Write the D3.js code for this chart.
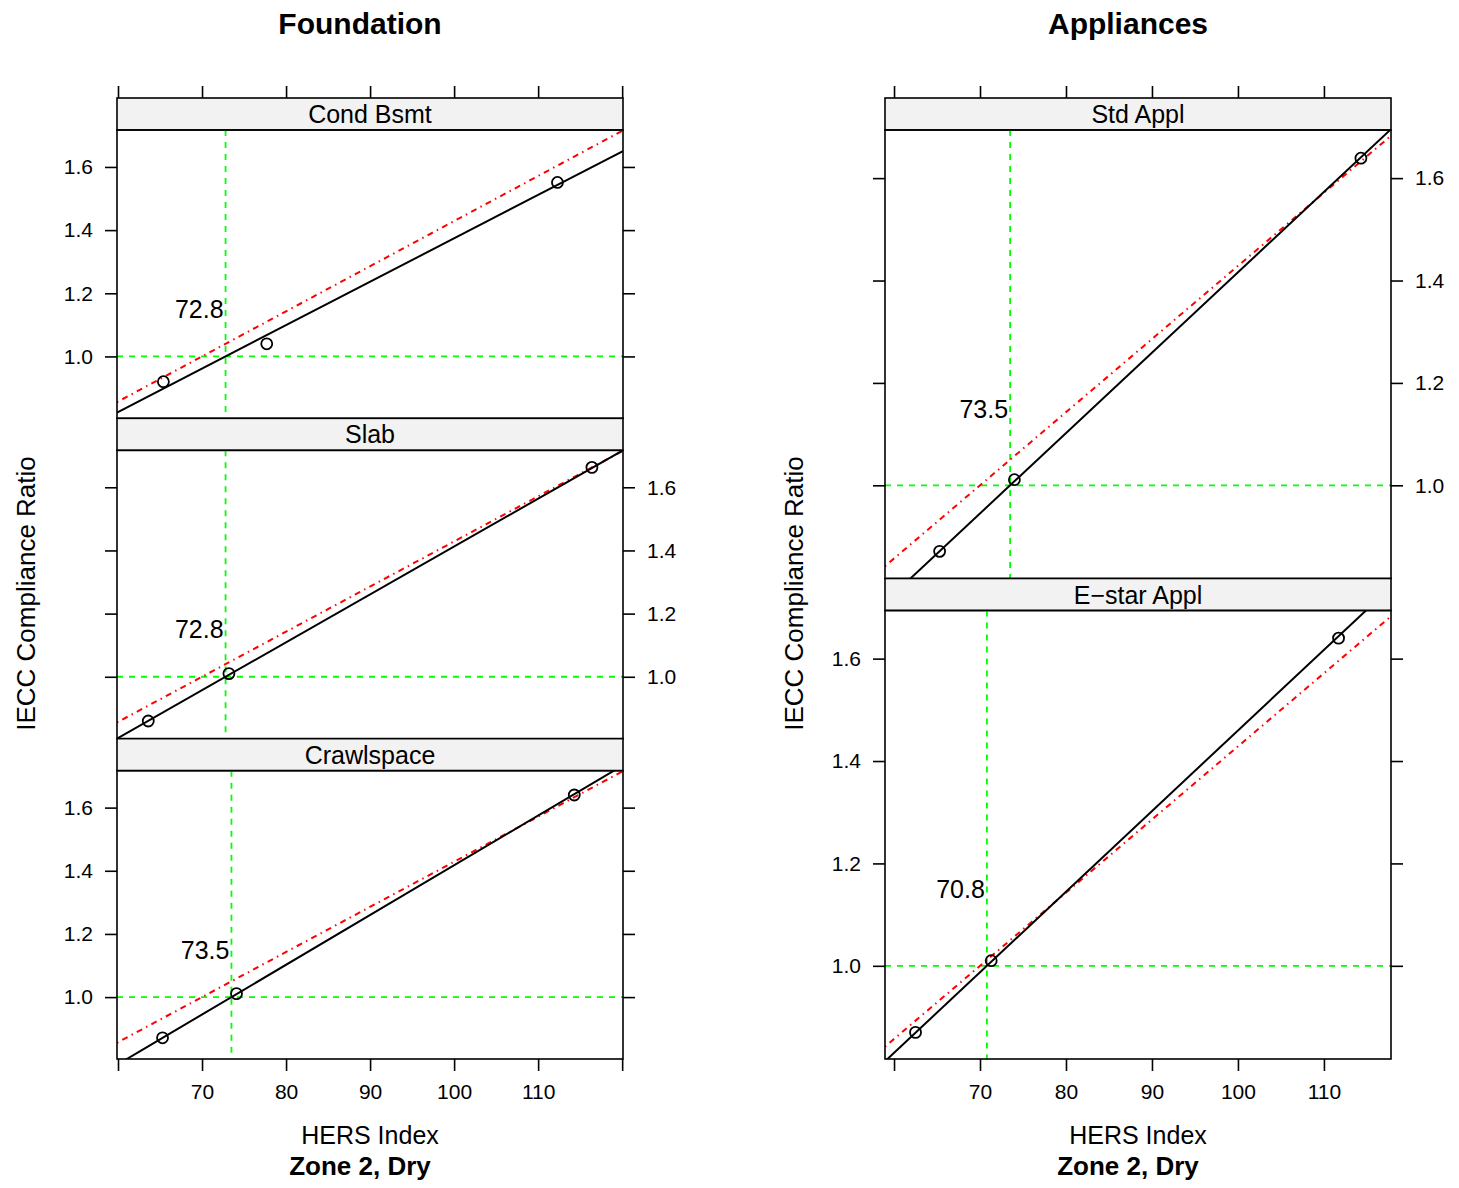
<!DOCTYPE html>
<html>
<head>
<meta charset="utf-8">
<script src="https://cdn.jsdelivr.net/npm/d3@7"></script>
<style>
  html, body { margin: 0; padding: 0; background: #fff; }
  svg { display: block; font-family: "Liberation Sans", Arial, Helvetica, sans-serif; }
</style>
</head>
<body>
<svg id="chart" width="1459" height="1188"></svg>
<script>
// ---------------- Data ----------------
const foundationPanels = ["Cond Bsmt", "Slab", "Crawlspace"];
const foundationHERS   = [[65.4, 77.7, 112.3], [63.6, 73.2, 116.4], [65.3, 74.1, 114.3]];
const foundationRatio  = [[0.920, 1.040, 1.551], [0.860, 1.010, 1.663], [0.871, 1.011, 1.640]];
const foundationCross  = [72.8, 72.8, 73.5];
const foundationSlope  = [0.01375, 0.01516, 0.01575];

const appliancePanels = ["Std Appl", "E\u2212star Appl"];
const applianceHERS   = [[65.3, 74.0, 114.3], [62.5, 71.3, 111.7]];
const applianceRatio  = [[0.871, 1.011, 1.639], [0.870, 1.010, 1.640]];
const applianceCross  = [73.5, 70.8];
const applianceSlope  = [0.0157, 0.01574];

const refHERS = 70;               // reference line: ratio = HERS / 70
const yTicks = [1.0, 1.2, 1.4, 1.6];
const xTicksFoundation = [60, 70, 80, 90, 100, 110, 120];
const xTicksAppliance  = [60, 70, 80, 90, 100, 110];
const xTickLabels = [70, 80, 90, 100, 110];

const titles = ["Foundation", "Appliances"];
const xLabel = "HERS Index";
const yLabel = "IECC Compliance Ratio";
const subTitle = "Zone 2, Dry";

// ---------------- Drawing ----------------
const svg = d3.select("#chart");
const GREEN = "#00FF00", RED = "#FF0000";
let clipId = 0;

function drawChart(cfg) {
  const n = cfg.panels.length;
  const rowH = (cfg.bottom - cfg.top) / n;
  const x = d3.scaleLinear().domain(cfg.xDomain).range([cfg.left, cfg.right]);
  const g = svg.append("g");
  const cx = (cfg.left + cfg.right) / 2;

  // titles
  g.append("text").attr("x", cfg.titleX).attr("y", 34).attr("text-anchor", "middle")
    .attr("font-size", 30).attr("font-weight", "bold").text(cfg.title);
  g.append("text").attr("x", cx).attr("y", 1144).attr("text-anchor", "middle")
    .attr("font-size", 25).text(xLabel);
  g.append("text").attr("x", cfg.titleX).attr("y", 1175).attr("text-anchor", "middle")
    .attr("font-size", 26).attr("font-weight", "bold").text(subTitle);
  g.append("text").attr("transform", `translate(${cfg.left - 82},${(cfg.top + cfg.bottom) / 2 + 15}) rotate(-90)`)
    .attr("text-anchor", "middle").attr("font-size", 26).text(yLabel);

  // top and bottom x axes
  const fmtX = d => xTickLabels.includes(d) ? String(d) : "";
  const topAx = g.append("g").attr("transform", `translate(0,${cfg.top})`)
    .call(d3.axisTop(x).tickValues(cfg.xTicks).tickSize(12).tickFormat(""));
  const botAx = g.append("g").attr("transform", `translate(0,${cfg.bottom})`)
    .call(d3.axisBottom(x).tickValues(cfg.xTicks).tickSize(12).tickPadding(13).tickFormat(fmtX));
  [topAx, botAx].forEach(a => {
    a.select(".domain").remove();
    a.selectAll("line").attr("stroke", "#000").attr("stroke-width", 1.6);
    a.selectAll("text").attr("font-size", 21).attr("fill", "#000").attr("font-family", null);
  });

  for (let i = 0; i < n; i++) {
    const stripTop = cfg.top + i * rowH;
    const pTop = stripTop + cfg.stripH;
    const pBot = cfg.top + (i + 1) * rowH;
    const y = d3.scaleLinear().domain(cfg.yDomain).range([pBot, pTop]);
    const fromBottom = n - 1 - i;
    const labelsLeft = fromBottom % 2 === 0;

    // strip
    g.append("rect").attr("x", cfg.left).attr("y", stripTop).attr("width", cfg.right - cfg.left)
      .attr("height", cfg.stripH).attr("fill", "#F2F2F2").attr("stroke", "#000").attr("stroke-width", 1.6);
    g.append("text").attr("x", cx).attr("y", stripTop + 25).attr("text-anchor", "middle")
      .attr("font-size", 25).text(cfg.panels[i]);

    // y axes
    const fmtY = d3.format(".1f");
    const lAx = g.append("g").attr("transform", `translate(${cfg.left},0)`)
      .call(d3.axisLeft(y).tickValues(yTicks).tickSize(12).tickPadding(12).tickFormat(labelsLeft ? fmtY : ""));
    const rAx = g.append("g").attr("transform", `translate(${cfg.right},0)`)
      .call(d3.axisRight(y).tickValues(yTicks).tickSize(12).tickPadding(12).tickFormat(labelsLeft ? "" : fmtY));
    [lAx, rAx].forEach(a => {
      a.select(".domain").remove();
      a.selectAll("line").attr("stroke", "#000").attr("stroke-width", 1.6);
      a.selectAll("text").attr("font-size", 21).attr("fill", "#000").attr("font-family", null);
    });

    // clip
    const id = "clip" + (clipId++);
    svg.append("clipPath").attr("id", id).append("rect")
      .attr("x", cfg.left).attr("y", pTop).attr("width", cfg.right - cfg.left).attr("height", pBot - pTop);
    const pg = g.append("g").attr("clip-path", `url(#${id})`);

    const cross = cfg.cross[i], slope = cfg.slope[i];
    const [x0, x1] = cfg.xDomain;

    // green reference lines
    pg.append("line").attr("x1", cfg.left).attr("x2", cfg.right).attr("y1", y(1)).attr("y2", y(1))
      .attr("stroke", GREEN).attr("stroke-width", 1.8).attr("stroke-dasharray", "6,6");
    pg.append("line").attr("x1", x(cross)).attr("x2", x(cross)).attr("y1", pTop).attr("y2", pBot)
      .attr("stroke", GREEN).attr("stroke-width", 1.8).attr("stroke-dasharray", "6,6");

    // red dot-dash line ratio = HERS/70
    const line = d3.line().x(d => x(d[0])).y(d => y(d[1]));
    pg.append("path").datum([[x0, x0 / refHERS], [x1, x1 / refHERS]]).attr("d", line)
      .attr("fill", "none").attr("stroke", RED).attr("stroke-width", 2).attr("stroke-dasharray", "1.5,4.5,6,4.5");

    // black fit line
    pg.append("path").datum([[x0, 1 + slope * (x0 - cross)], [x1, 1 + slope * (x1 - cross)]]).attr("d", line)
      .attr("fill", "none").attr("stroke", "#000").attr("stroke-width", 2);

    // points
    pg.selectAll("circle.pt").data(cfg.hers[i].map((h, k) => [h, cfg.ratio[i][k]])).enter()
      .append("circle").attr("cx", d => x(d[0])).attr("cy", d => y(d[1])).attr("r", 5.5)
      .attr("fill", "none").attr("stroke", "#000").attr("stroke-width", 1.8);

    // crossing label
    pg.append("text").attr("x", x(cross) - 2).attr("y", y(1.15) + 9).attr("text-anchor", "end")
      .attr("font-size", 25).text(cross.toFixed(1));

    // panel border
    g.append("rect").attr("x", cfg.left).attr("y", pTop).attr("width", cfg.right - cfg.left)
      .attr("height", pBot - pTop).attr("fill", "none").attr("stroke", "#000").attr("stroke-width", 1.6);
  }
}

drawChart({
  title: titles[0], titleX: 360,
  left: 117, right: 623, top: 98, bottom: 1059, stripH: 32,
  xDomain: [59.88, 120.1], yDomain: [0.804, 1.717], xTicks: xTicksFoundation,
  panels: foundationPanels, hers: foundationHERS, ratio: foundationRatio,
  cross: foundationCross, slope: foundationSlope
});
drawChart({
  title: titles[1], titleX: 1128,
  left: 885, right: 1391, top: 98, bottom: 1059, stripH: 32,
  xDomain: [58.95, 117.8], yDomain: [0.818, 1.694], xTicks: xTicksAppliance,
  panels: appliancePanels, hers: applianceHERS, ratio: applianceRatio,
  cross: applianceCross, slope: applianceSlope
});
</script>
</body>
</html>
